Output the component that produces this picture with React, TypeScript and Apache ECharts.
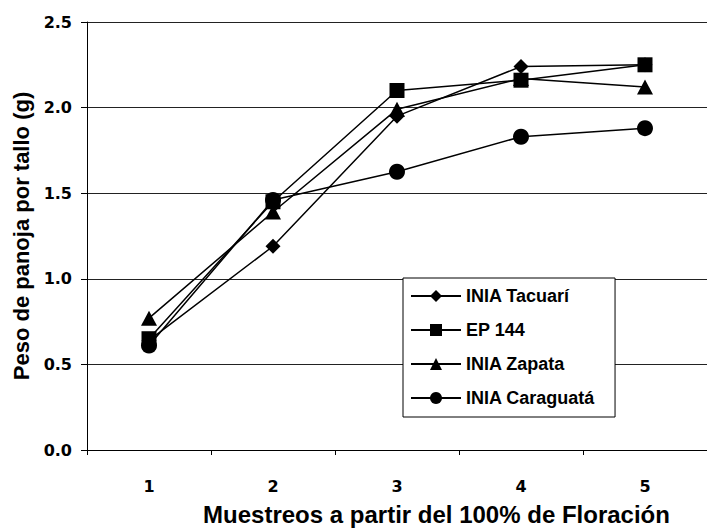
import React, { useEffect, useRef } from "react";
import * as echarts from "echarts";

const categories = ["1", "2", "3", "4", "5"];
const seriesNames = ["INIA Tacuarí", "EP 144", "INIA Zapata", "INIA Caraguatá"];
const tacuari = [0.64, 1.19, 1.95, 2.24, 2.25];
const ep144 = [0.65, 1.45, 2.1, 2.16, 2.25];
const zapata = [0.77, 1.39, 1.99, 2.17, 2.12];
const caraguata = [0.61, 1.46, 1.625, 1.83, 1.88];
const yTicks = [0, 0.5, 1, 1.5, 2, 2.5];

const seriesData = [tacuari, ep144, zapata, caraguata];
const symbols = ["diamond", "rect", "triangle", "circle"];
const symbolSizes: any[] = [15, 15, [16, 15], 16];

export default function App() {
  const ref = useRef<HTMLDivElement>(null);
  useEffect(() => {
    if (!ref.current) return;
    const chart = echarts.init(ref.current, null, { renderer: "svg" });
    const tickFont = { fontFamily: "DejaVu Sans", fontWeight: "bold", fontSize: 16, color: "#000" };
    chart.setOption({
      animation: false,
      backgroundColor: "#fff",
      grid: { left: 87, top: 22, width: 629, height: 428, containLabel: false },
      xAxis: {
        type: "category",
        data: categories,
        boundaryGap: true,
        axisLine: { show: true, lineStyle: { color: "#000", width: 1 } },
        axisTick: { show: true, length: 5, inside: false, lineStyle: { color: "#000" } },
        axisLabel: { ...tickFont, margin: 28 },
        splitLine: { show: false },
        name: "Muestreos a partir del 100% de Floración",
        nameLocation: "middle",
        nameGap: 52,
        nameTextStyle: {
          fontFamily: "Liberation Sans",
          fontWeight: "bold",
          fontSize: 24,
          color: "#000",
          padding: [0, 0, 0, 79],
        },
      },
      yAxis: {
        type: "value",
        min: yTicks[0],
        max: yTicks[yTicks.length - 1],
        interval: 0.5,
        axisLine: { show: true, lineStyle: { color: "#000", width: 1 } },
        axisTick: { show: true, length: 6, inside: false, lineStyle: { color: "#000" } },
        axisLabel: { ...tickFont, margin: 15, formatter: (v: number) => v.toFixed(1) },
        splitLine: { show: true, lineStyle: { color: "#222", width: 1 } },
        name: "Peso de panoja por tallo (g)",
        nameLocation: "middle",
        nameGap: 55,
        nameTextStyle: {
          fontFamily: "Liberation Sans",
          fontWeight: "bold",
          fontSize: 22,
          color: "#000",
        },
      },
      legend: {
        show: true,
        orient: "vertical",
        left: 403,
        top: 278,
        itemWidth: 50,
        itemHeight: 15,
        itemGap: 16,
        padding: [9, 20, 10, 7],
        backgroundColor: "#fff",
        borderColor: "#000",
        borderWidth: 1,
        borderRadius: 0,
        textStyle: { fontFamily: "Liberation Sans", fontWeight: "bold", fontSize: 18, color: "#000" },
        data: seriesNames,
      },
      series: seriesNames.map((name, i) => ({
        name,
        type: "line",
        data: seriesData[i],
        symbol: symbols[i],
        symbolSize: symbolSizes[i],
        showSymbol: true,
        lineStyle: { color: "#000", width: 1.5 },
        itemStyle: { color: "#000", borderWidth: 0 },
        emphasis: { disabled: true },
      })),
    });
    return () => chart.dispose();
  }, []);
  return (
    <div
      ref={ref}
      style={{ position: "absolute", left: 0, top: 0, width: 707, height: 531 }}
    />
  );
}
